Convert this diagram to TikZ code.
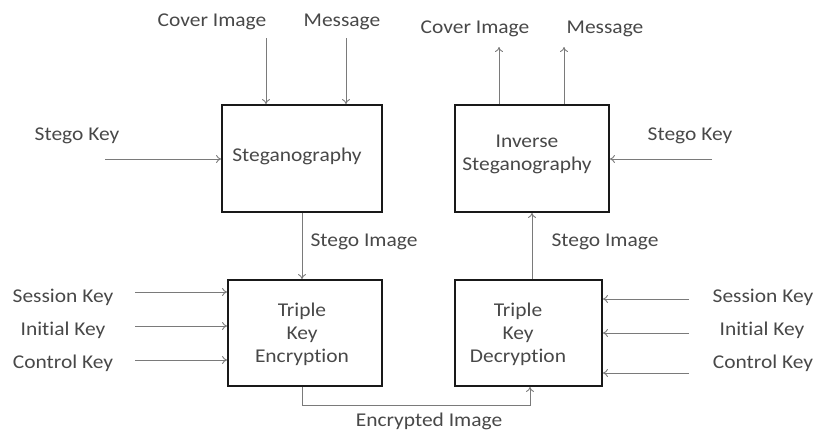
\documentclass[tikz,border=0pt]{standalone}
\usepackage{fontspec}
\setmainfont{Carlito}[FakeStretch=1.1, Ligatures={NoCommon}]
\usetikzlibrary{arrows.meta}
\definecolor{txt}{HTML}{484848}
\definecolor{ln}{HTML}{7A7A7A}
\tikzset{
  blk/.style={draw=black!90, line width=1.8pt, inner sep=0pt},
  lbl/.style={text=txt, font=\fontsize{19.5}{23}\selectfont, inner sep=0pt, align=center},
  arr/.style={draw=ln, line width=0.9pt, -{To[length=5pt,width=8pt]}},
  ln/.style={draw=ln, line width=0.9pt}
}
\begin{document}
\begin{tikzpicture}[x=1pt,y=-1pt]
\useasboundingbox (0,0) rectangle (816,432);
% boxes
\node[blk, minimum width=160pt, minimum height=107pt] (b1) at (302,158.5) {};
\node[blk, minimum width=154pt, minimum height=107pt] (b2) at (532,158.5) {};
\node[blk, minimum width=154pt, minimum height=106pt] (b3) at (305,333) {};
\node[blk, minimum width=147pt, minimum height=106pt] (b4) at (528.5,333) {};
% box texts
\node[lbl] (t1) at (297,156) {Steganography};
\node[lbl] (t2) at (527,154) {Inverse\\Steganography};
\node[lbl] (t3) at (302,334) {Triple\\Key\\Encryption};
\node[lbl] (t4) at (518,334) {Triple\\Key\\Decryption};
% labels
\node[lbl] (ci1) at (212,22) {Cover Image};
\node[lbl] (ms1) at (342,22) {Message};
\node[lbl] (sk1) at (77,136) {Stego Key};
\node[lbl] (ci2) at (475,29) {Cover Image};
\node[lbl] (ms2) at (605,29) {Message};
\node[lbl] (sk2) at (690,136) {Stego Key};
\node[lbl] (si1) at (364,242) {Stego Image};
\node[lbl] (si2) at (605,242) {Stego Image};
\node[lbl] (sek1) at (63,297) {Session Key};
\node[lbl] (ink1) at (63,330) {Initial Key};
\node[lbl] (cok1) at (63,363) {Control Key};
\node[lbl] (sek2) at (763,297) {Session Key};
\node[lbl] (ink2) at (762,330) {Initial Key};
\node[lbl] (cok2) at (763,363) {Control Key};
\node[lbl] (enc) at (429,421) {Encrypted Image};
% free ends
\coordinate (a1) at (266,38);
\coordinate (a2) at (346,38);
\coordinate (a3) at (105,159);
\coordinate (a4) at (499,47);
\coordinate (a5) at (564,47);
\coordinate (a6) at (712,159);
\coordinate (k1) at (135,292);
\coordinate (k2) at (135,326);
\coordinate (k3) at (135,360);
\coordinate (k4) at (689,299);
\coordinate (k5) at (689,333);
\coordinate (k6) at (689,373);
\coordinate (e1) at (302,405);
\coordinate (e2) at (530,405);
% connectors
\draw[arr] (a1) -- (a1 |- b1.north);
\draw[arr] (a2) -- (a2 |- b1.north);
\draw[arr] (a3) -- (a3 -| b1.west);
\draw[arr] (a4 |- b2.north) -- (a4);
\draw[arr] (a5 |- b2.north) -- (a5);
\draw[arr] (a6) -- (a6 -| b2.east);
\draw[arr] (e1 |- b1.south) -- (e1 |- b3.north);
\draw[arr] (b4.north -| 532,0) -- (532,0 |- b2.south);
\draw[arr] (k1) -- (k1 -| b3.west);
\draw[arr] (k2) -- (k2 -| b3.west);
\draw[arr] (k3) -- (k3 -| b3.west);
\draw[arr] (k4) -- (k4 -| b4.east);
\draw[arr] (k5) -- (k5 -| b4.east);
\draw[arr] (k6) -- (k6 -| b4.east);
\draw[arr] (e1 |- b3.south) -- (e1) -- (e2) -- (e2 |- b4.south);
\end{tikzpicture}
\end{document}
